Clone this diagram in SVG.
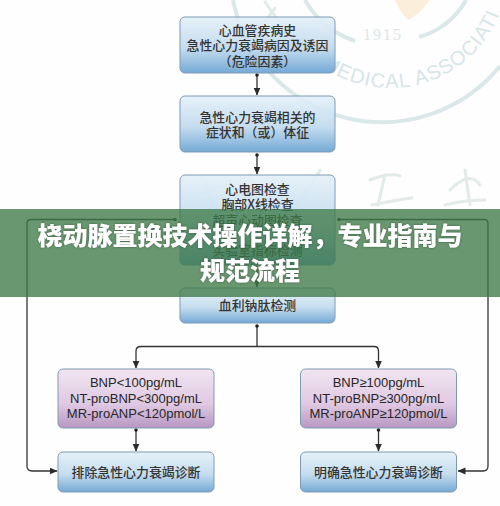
<svg xmlns="http://www.w3.org/2000/svg" width="500" height="506" viewBox="0 0 500 506">
<style>
.cn{font-family:"Noto Sans CJK SC","Liberation Serif",serif;font-size:12.9px;fill:#333;text-anchor:middle;font-weight:500}
.en{font-family:"Liberation Sans",Arial,sans-serif;font-size:13px;fill:#262626;text-anchor:middle}
.box{stroke:#7f9bb3;stroke-width:1}
.c{fill:none;stroke:#333;stroke-width:1.3}
.wm{fill:none;stroke:#dbe8ea;stroke-width:4}
.cal{fill:none;stroke:#e2ebe8;stroke-width:3;stroke-linecap:round}
.wt{font-family:"Liberation Sans",Arial,sans-serif;fill:#d8e5e9;font-size:20px;letter-spacing:1px}
.wy{font-family:"Liberation Serif",serif;fill:#dde6e6;font-size:16px;letter-spacing:2px}
.title{font-family:"Noto Sans CJK SC",sans-serif;font-weight:900;font-size:25px;fill:#fff;text-anchor:middle;filter:url(#s)}
</style>
<defs>
<linearGradient id="b" x1="0" y1="0" x2="0" y2="1"><stop offset="0" stop-color="#e4f0f8" stop-opacity=".92"/><stop offset=".55" stop-color="#c2dbee" stop-opacity=".95"/><stop offset="1" stop-color="#74a9d6"/></linearGradient>
<linearGradient id="p" x1="0" y1="0" x2="0" y2="1"><stop offset="0" stop-color="#f1e5f1"/><stop offset=".6" stop-color="#dfc8e2"/><stop offset="1" stop-color="#b797c2"/></linearGradient>
<filter id="s" x="-5%" y="-20%" width="110%" height="140%"><feDropShadow dx="0" dy="0" stdDeviation="1" flood-color="#2d4a32" flood-opacity=".8"/></filter>
<marker id="a" markerWidth="8" markerHeight="8" refX="7.500" refY="4" orient="auto-start-reverse" markerUnits="userSpaceOnUse"><path d="M0 .5L8 4L0 7.500Z" fill="#2b2b2b"/></marker>
<marker id="d" markerWidth="5" markerHeight="5" refX="2.500" refY="2.500" markerUnits="userSpaceOnUse"><circle cx="2.500" cy="2.500" r="1.800" fill="#222"/></marker>
</defs>
<rect width="500" height="506" fill="#fefefe"/>
<g id="watermark">
<path class="wm" d="M233 0A152 152 0 0 0 500 66" stroke-width="5"/>
<path class="wm" d="M305 0A92 92 0 0 0 355 41"/>
<path class="wm" d="M419 37A77 77 0 0 0 466 0"/>
<path d="M395 0Q400 12 408 20Q420 14 430 0Z" fill="#fbeeda"/>
<text class="wy" x="363" y="40">1915</text>
<path id="wp" d="M272 -30A118 118 0 0 0 508 -30" fill="none"/>
<text class="wt"><textPath href="#wp" startOffset="30%">MEDICAL ASSOCIATI</textPath></text>
<path class="cal" d="M265 2L285 30M275 8L262 26M200 195Q225 180 240 190M205 180L225 260M250 175L268 210M290 210Q310 190 320 170M370 180Q390 172 400 176M385 175L378 205M372 205Q395 200 412 198M450 190Q470 170 480 185M465 170L470 205M445 205Q465 200 485 200"/>
</g>
<g id="connectors">
<path class="c" d="M257 75V95" marker-start="url(#d)" marker-end="url(#a)"/>
<path class="c" d="M257 155V174" marker-start="url(#d)" marker-end="url(#a)"/>
<path class="c" d="M257 265V287" marker-end="url(#a)"/>
<path class="c" d="M175 219.500H31Q27 219.500 27 223.500V466Q27 471 32 471H57" marker-start="url(#d)" marker-end="url(#a)"/>
<path class="c" d="M339 219.500H484Q488 219.500 488 223.500V466Q488 471 483 471H458" marker-start="url(#d)" marker-end="url(#a)"/>
<path class="c" d="M257 326V346.500" marker-start="url(#d)"/>
<path class="c" d="M136 368V351Q136 346.500 141 346.500H374Q378.500 346.500 378.500 351V368" marker-start="url(#a)" marker-end="url(#a)"/>
<path class="c" d="M136 430V451" marker-start="url(#d)" marker-end="url(#a)"/>
<path class="c" d="M378.500 430V451" marker-start="url(#d)" marker-end="url(#a)"/>
</g>
<g id="n1"><rect class="box" x="180" y="17" width="155" height="56" rx="5" fill="url(#b)"/>
<text class="cn" x="257.500" y="35">心血管疾病史</text><text class="cn" x="257.500" y="50">急性心力衰竭病因及诱因</text><text class="cn" x="257.500" y="66">（危险因素）</text></g>
<g id="n2"><rect class="box" x="180" y="96" width="155" height="56" rx="5" fill="url(#b)"/>
<text class="cn" x="257.500" y="122">急性心力衰竭相关的</text><text class="cn" x="257.500" y="137">症状和（或）体征</text></g>
<g id="n3"><rect class="box" x="180" y="175" width="155" height="90" rx="5" fill="url(#b)"/>
<text class="cn" x="257.500" y="194">心电图检查</text><text class="cn" x="257.500" y="209">胸部X线检查</text><text class="cn" x="257.500" y="225">超声心动图检查</text><text class="cn" x="257.500" y="255">实验室指标检测</text></g>
<g id="n4"><rect class="box" x="180" y="288" width="155" height="35" rx="5" fill="url(#b)"/>
<text class="cn" x="257.500" y="310">血利钠肽检测</text></g>
<g id="n5"><rect class="box" x="58" y="369" width="156" height="59" rx="5" fill="url(#p)"/>
<text class="en" x="136" y="387">BNP&lt;100pg/mL</text><text class="en" x="136" y="402.500">NT-proBNP&lt;300pg/mL</text><text class="en" x="136" y="418">MR-proANP&lt;120pmol/L</text></g>
<g id="n6"><rect class="box" x="300.500" y="369" width="156" height="59" rx="5" fill="url(#p)"/>
<text class="en" x="378.500" y="387">BNP≥100pg/mL</text><text class="en" x="378.500" y="402.500">NT-proBNP≥300pg/mL</text><text class="en" x="378.500" y="418">MR-proANP≥120pmol/L</text></g>
<g id="n7"><rect class="box" x="58" y="452" width="156" height="40" rx="5" fill="url(#b)"/>
<text class="cn" x="136" y="477">排除急性心力衰竭诊断</text></g>
<g id="n8"><rect class="box" x="300.500" y="452" width="156" height="40" rx="5" fill="url(#b)"/>
<text class="cn" x="378.500" y="477">明确急性心力衰竭诊断</text></g>
<g id="banner"><rect x="0" y="209" width="500" height="88" fill="#3f7a48" fill-opacity=".78"/>
<text class="title" x="250" y="245">桡动脉置换技术操作详解，专业指南与</text><text class="title" x="250" y="280">规范流程</text></g>
</svg>
